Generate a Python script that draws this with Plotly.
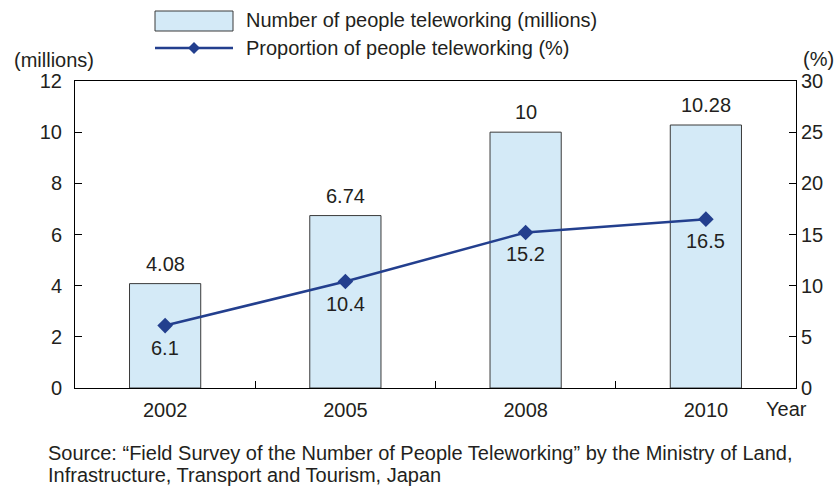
import plotly.graph_objects as go

years = ["2002", "2005", "2008", "2010"]
people_millions = [4.08, 6.74, 10, 10.28]
proportion_pct = [6.1, 10.4, 15.2, 16.5]
bar_labels = ["4.08", "6.74", "10", "10.28"]
line_labels = ["6.1", "10.4", "15.2", "16.5"]

FONT = "Liberation Sans, Arial, Helvetica, sans-serif"
TXT = "#231f20"
BAR_FILL = "#d4eaf7"
LINE_C = "#233f8e"
FS = 20

W, H = 834, 486
L, R, T, B = 75, 38, 81, 98
PW, PH = W - L - R, H - T - B

def px(x):
    return (x - L) / PW

def py(y):
    return (H - B - y) / PH

fig = go.Figure()
fig.add_trace(go.Bar(
    x=years, y=people_millions,
    marker=dict(color=BAR_FILL, line=dict(color="#3a3a3a", width=1)),
    width=0.395, showlegend=False,
))
fig.add_trace(go.Scatter(
    x=years, y=proportion_pct, yaxis="y2", mode="lines+markers",
    line=dict(color=LINE_C, width=2.5),
    marker=dict(symbol="diamond", size=12, color=LINE_C),
    cliponaxis=False, showlegend=False,
))

shapes = []
shapes.append(dict(type="rect", xref="paper", yref="paper",
                   x0=px(155), x1=px(233), y0=py(31), y1=py(11),
                   fillcolor=BAR_FILL, line=dict(color="#3a3a3a", width=1)))
shapes.append(dict(type="line", xref="paper", yref="paper",
                   x0=px(155), x1=px(233), y0=py(48), y1=py(48),
                   line=dict(color=LINE_C, width=2.5)))
cx, cy, dx, dy = 194, 48, 6, 6
shapes.append(dict(type="path", xref="paper", yref="paper",
                   path=f"M {px(cx-dx)} {py(cy)} L {px(cx)} {py(cy-dy)} L {px(cx+dx)} {py(cy)} L {px(cx)} {py(cy+dy)} Z",
                   fillcolor=LINE_C, line=dict(color=LINE_C, width=0)))

annotations = []
for i, (v, lab) in enumerate(zip(people_millions, bar_labels)):
    annotations.append(dict(text=lab, x=i, y=v, xref="x", yref="y",
                            xanchor="center", yanchor="middle", yshift=20))
for i, (v, lab) in enumerate(zip(proportion_pct, line_labels)):
    annotations.append(dict(text=lab, x=i, y=v, xref="x", yref="y2",
                            xanchor="center", yanchor="middle", yshift=-22))

paper_ann = [
    dict(text="Number of people teleworking (millions)", x=px(244), y=py(20),
         xanchor="left", yanchor="middle"),
    dict(text="Proportion of people teleworking (%)", x=px(244), y=py(48),
         xanchor="left", yanchor="middle"),
    dict(text="(millions)", x=px(96), y=py(60), xanchor="right", yanchor="middle"),
    dict(text="(%)", x=px(818), y=py(59), xanchor="center", yanchor="middle"),
    dict(text="Year", x=px(764), y=py(409), xanchor="left", yanchor="middle"),
    dict(text="Source: “Field Survey of the Number of People Teleworking” by the Ministry of Land,",
         x=px(46), y=py(453), xanchor="left", yanchor="middle"),
    dict(text="Infrastructure, Transport and Tourism, Japan",
         x=px(46), y=py(475), xanchor="left", yanchor="middle"),
]
for a in paper_ann:
    a.update(xref="paper", yref="paper")
annotations += paper_ann
for a in annotations:
    a["showarrow"] = False
    a.setdefault("font", dict(size=FS, color=TXT, family=FONT))

axis_common = dict(showgrid=False, zeroline=False, showline=True, linecolor="#000",
                   linewidth=1, ticks="inside", tickcolor="#000", ticklen=7,
                   tickfont=dict(size=FS, color=TXT, family=FONT))

fig.update_layout(
    width=W, height=H, margin=dict(l=L, r=R, t=T, b=B),
    paper_bgcolor="white", plot_bgcolor="white",
    font=dict(family=FONT, color=TXT, size=FS),
    xaxis=dict(**axis_common, type="category", mirror=True, tickson="boundaries",
               ticklabelstandoff=4, range=[-0.5, len(years) - 0.5]),
    yaxis=dict(**axis_common, range=[0, 12], dtick=2, ticklabelstandoff=8),
    yaxis2=dict(**axis_common, overlaying="y", side="right", range=[0, 30], dtick=5),
    shapes=shapes, annotations=annotations, bargap=0.6,
)
fig.write_html("out.html", config={"displayModeBar": False},
               post_script="document.body.style.margin='0px';document.body.style.padding='0px';")
